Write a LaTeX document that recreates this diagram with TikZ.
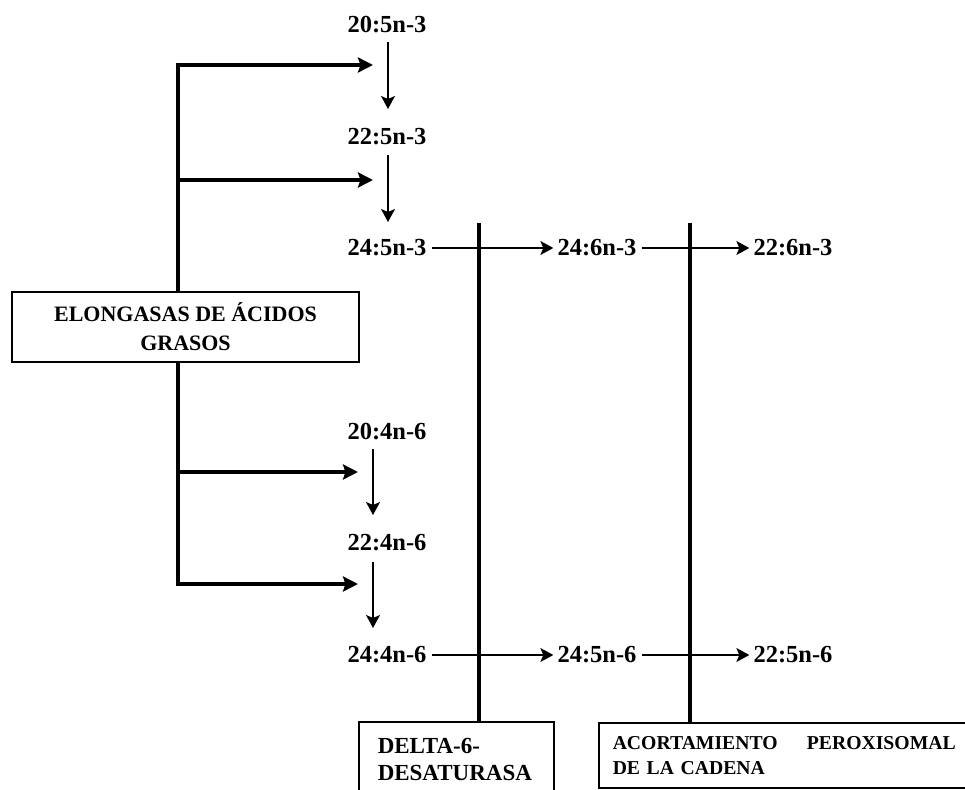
\documentclass[tikz,border=0pt]{standalone}
\usepackage{fontspec}
\setmainfont{Liberation Serif}
\usetikzlibrary{arrows.meta,calc}
\begin{document}
\begin{tikzpicture}[x=1pt,y=-1pt,
  lbl/.style={font=\fontsize{24.5}{24.5}\selectfont\bfseries, inner sep=0pt, anchor=center},
  bigline/.style={line width=4.3pt},
  bigarrow/.style={line width=4.3pt, -{Stealth[length=15pt,width=15pt,inset=2.5pt]}},
  smallarrow/.style={line width=1.3pt, -{Stealth[length=13pt,width=14pt,inset=3pt]}},
  boxnode/.style={draw, line width=1.5pt, inner ysep=0pt}
]
\useasboundingbox (0,0) rectangle (965,789);

% labels
\node[lbl] (a1) at (387,25) {20:5n-3};
\node[lbl] (a2) at (387,137) {22:5n-3};
\node[lbl] (a3) at (387,248) {24:5n-3};
\node[lbl] (b3) at (597,248) {24:6n-3};
\node[lbl] (c3) at (793,248) {22:6n-3};
\node[lbl] (d1) at (387,432) {20:4n-6};
\node[lbl] (d2) at (387,543) {22:4n-6};
\node[lbl] (d3) at (387,655) {24:4n-6};
\node[lbl] (e3) at (597,655) {24:5n-6};
\node[lbl] (f3) at (793,655) {22:5n-6};

% boxes
\node[boxnode, minimum width=347pt, minimum height=70pt, align=center,
      font=\fontsize{22}{29}\selectfont\bfseries] (elong) at (185.5,327)
      {ELONGASAS DE ÁCIDOS\\GRASOS};
\node[boxnode, anchor=north west, minimum height=76pt, text width=157pt,
      inner xsep=19pt, align=left, font=\fontsize{23}{27}\selectfont\bfseries]
      (delta) at (358,721) {DELTA-6-\\DESATURASA};
\node[boxnode, anchor=north west, minimum height=65pt, text width=343pt,
      inner xsep=14pt, align=left, font=\fontsize{19.7}{25}\selectfont\bfseries]
      (acort) at (598,722) {ACORTAMIENTO\hfill PEROXISOMAL\\DE LA CADENA};

% vertical chain arrows
\draw[smallarrow] ($(a1.center)+(1,17)$) -- ($(a2.center)+(1,-28)$);
\draw[smallarrow] ($(a2.center)+(1,18)$) -- ($(a3.center)+(1,-26)$);
\draw[smallarrow] ($(d1.center)+(-14,17)$) -- ($(d2.center)+(-14,-28)$);
\draw[smallarrow] ($(d2.center)+(-14,19)$) -- ($(d3.center)+(-14,-27)$);

% horizontal chain arrows
\draw[smallarrow] ([xshift=5pt]a3.east) -- ([xshift=-4pt]b3.west);
\draw[smallarrow] ([xshift=5pt]b3.east) -- ([xshift=-4pt]c3.west);
\draw[smallarrow] ([xshift=5pt]d3.east) -- ([xshift=-4pt]e3.west);
\draw[smallarrow] ([xshift=5pt]e3.east) -- ([xshift=-4pt]f3.west);

% elongase tree
\coordinate (t1) at (178,65);
\coordinate (t2) at (178,180);
\coordinate (t3) at (178,472);
\coordinate (t4) at (178,584);
\coordinate (h1) at (373,65);
\coordinate (h2) at (373,180);
\coordinate (h3) at (358,472);
\coordinate (h4) at (358,584);
\draw[bigarrow] (t1 |- elong.north) -- (t1) -- (h1);
\draw[bigarrow] (t2) -- (h2);
\draw[bigarrow] (t4 |- elong.south) -- (t4) -- (h4);
\draw[bigarrow] (t3) -- (h3);

% enzyme dividers
\coordinate (v1) at (479,223);
\coordinate (v2) at (690,223);
\draw[bigline] (v1) -- (v1 |- delta.north);
\draw[bigline] (v2) -- (v2 |- acort.north);
\end{tikzpicture}
\end{document}
